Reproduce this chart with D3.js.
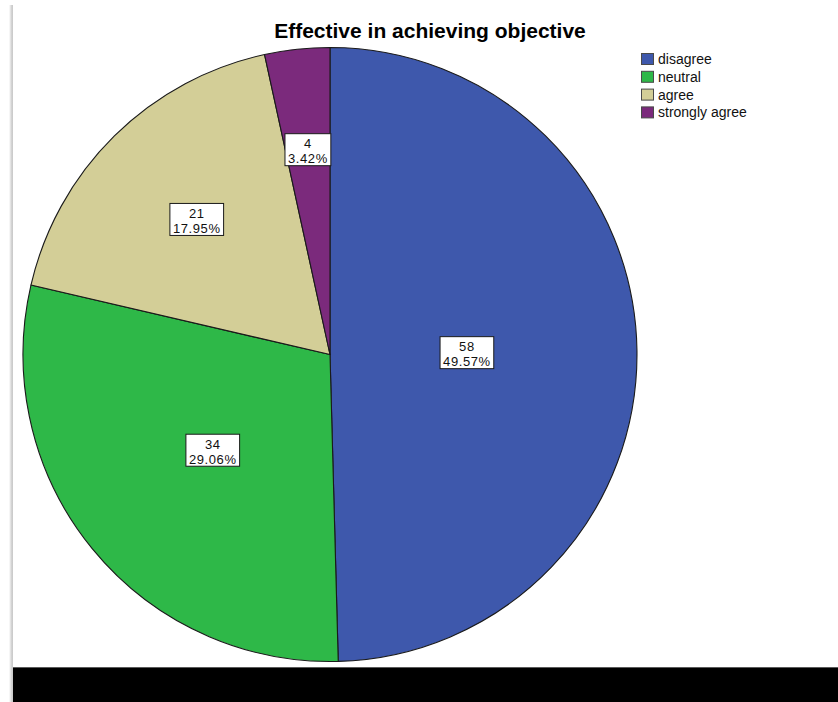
<!DOCTYPE html>
<html>
<head>
<meta charset="utf-8">
<script src="https://cdn.jsdelivr.net/npm/d3@7/dist/d3.min.js"></script>
<style>
  html, body { margin: 0; padding: 0; background: #fff; }
  svg { display: block; }
</style>
</head>
<body>
<svg id="chart" width="838" height="702"></svg>
<script>
// Survey responses: "Effective in achieving objective"
const categories = ["disagree", "neutral", "agree", "strongly agree"];
const counts = [58, 34, 21, 4];
const percentLabels = ["49.57%", "29.06%", "17.95%", "3.42%"];
const colors = ["#3e58ac", "#2eb848", "#d3ce97", "#7b2a7c"];
const titleText = "Effective in achieving objective";

// Where each value box sits along its slice's mid-angle, as a share of the radius
const labelRadiusShare = [0.446, 0.493, 0.618, 0.671];

const W = 838, H = 702;
const cx = 330, cy = 354.5, R = 307;
const font = "'Liberation Sans', Arial, sans-serif";

const svg = d3.select("#chart");

// Frame: shaded left edge of the viewer panel
const defs = svg.append("defs");
const grad = defs.append("linearGradient").attr("id", "edgeShade")
  .attr("x1", "0").attr("x2", "1").attr("y1", "0").attr("y2", "0");
grad.append("stop").attr("offset", "0").attr("stop-color", "#ffffff");
grad.append("stop").attr("offset", "0.6").attr("stop-color", "#d4d4d4");
grad.append("stop").attr("offset", "1").attr("stop-color", "#c8c8c8");
svg.append("rect").attr("x", 9).attr("y", 5).attr("width", 4).attr("height", H - 5)
  .attr("fill", "url(#edgeShade)");
svg.append("rect").attr("x", 13).attr("y", 5).attr("width", W - 13).attr("height", H - 5)
  .attr("fill", "#ffffff");

// Black strip at the bottom of the panel
svg.append("rect").attr("x", 13).attr("y", 667).attr("width", W - 13).attr("height", 1)
  .attr("fill", "#5a5a5a");
svg.append("rect").attr("x", 13).attr("y", 668).attr("width", W - 13).attr("height", H - 668)
  .attr("fill", "#000000");

// Title
svg.append("text")
  .attr("x", 430).attr("y", 38)
  .attr("text-anchor", "middle")
  .attr("font-family", font)
  .attr("font-weight", "bold")
  .attr("font-size", "21px")
  .attr("fill", "#000")
  .text(titleText);

// Pie
const data = categories.map((c, i) => ({ category: c, count: counts[i], pct: percentLabels[i], color: colors[i], share: labelRadiusShare[i] }));
const pie = d3.pie().value(d => d.count).sort(null);
const arcs = pie(data);
const arc = d3.arc().innerRadius(0).outerRadius(R);

const g = svg.append("g").attr("transform", `translate(${cx},${cy})`);
g.selectAll("path.slice")
  .data(arcs)
  .join("path")
  .attr("class", "slice")
  .attr("d", arc)
  .attr("fill", d => d.data.color)
  .attr("stroke", "#1a1a1a")
  .attr("stroke-width", 1.1)
  .attr("stroke-linejoin", "round");

// Value boxes: count on the first line, percent on the second
const labels = g.selectAll("g.valueLabel")
  .data(arcs)
  .join("g")
  .attr("class", "valueLabel")
  .attr("transform", d => {
    const mid = (d.startAngle + d.endAngle) / 2;
    const r = R * d.data.share;
    return `translate(${r * Math.sin(mid)},${-r * Math.cos(mid)})`;
  });

labels.each(function(d) {
  const sel = d3.select(this);
  const box = sel.append("rect");
  const t1 = sel.append("text").attr("text-anchor", "middle").attr("y", -1.5)
    .attr("font-family", font).attr("font-size", "13px").attr("letter-spacing", "0.6px")
    .attr("fill", "#111")
    .text(d.data.count);
  const t2 = sel.append("text").attr("text-anchor", "middle").attr("y", 13.5)
    .attr("font-family", font).attr("font-size", "13px").attr("letter-spacing", "0.6px")
    .attr("fill", "#111")
    .text(d.data.pct);
  const w = Math.max(t1.node().getComputedTextLength(), t2.node().getComputedTextLength()) + 6;
  box.attr("x", -w / 2).attr("y", -16).attr("width", w).attr("height", 32)
    .attr("fill", "#ffffff").attr("stroke", "#1a1a1a").attr("stroke-width", 1);
});

// Legend
const legend = svg.append("g").attr("transform", "translate(641,53)");
const items = legend.selectAll("g.item")
  .data(data)
  .join("g")
  .attr("class", "item")
  .attr("transform", (d, i) => `translate(0,${i * 17.8})`);
items.append("rect")
  .attr("x", 0.5).attr("y", 0.5).attr("width", 12).attr("height", 11)
  .attr("fill", d => d.color)
  .attr("stroke", "#4a4a4a").attr("stroke-width", 1);
items.append("text")
  .attr("x", 17).attr("y", 11)
  .attr("font-family", font).attr("font-size", "14px").attr("fill", "#111")
  .text(d => d.category);
</script>
</body>
</html>
